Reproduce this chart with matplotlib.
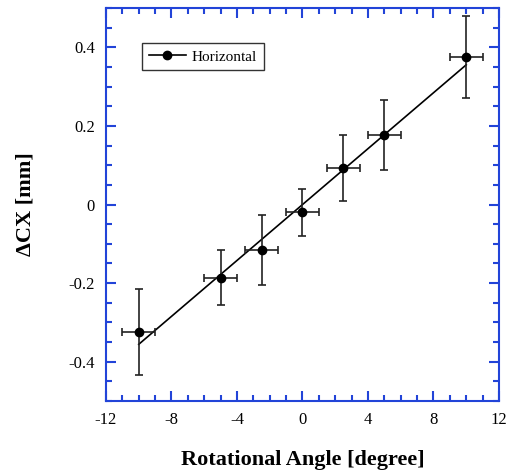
import matplotlib
matplotlib.use('Agg')
import numpy as np
import matplotlib.pyplot as plt
from matplotlib.ticker import MultipleLocator, FuncFormatter

angle = [-10, -5, -2.5, 0, 2.5, 5, 10]
dcx = [-0.325, -0.186, -0.115, -0.02, 0.093, 0.177, 0.375]
dcx_err = [0.11, 0.07, 0.089, 0.06, 0.083, 0.088, 0.105]
angle_err = [1.0, 1.0, 1.0, 1.0, 1.0, 1.0, 1.0]

xlim = (-12, 12)
ylim = (-0.5, 0.5)

plt.rcParams['font.family'] = ['Liberation Serif', 'DejaVu Serif']
blue = '#2244d8'

fig = plt.figure(figsize=(5.11, 4.71), dpi=100)
ax = fig.add_axes([0.2074, 0.1486, 0.7691, 0.8344])

# linear fit through the points
slope, icpt = np.polyfit(angle, dcx, 1)
fit_x = np.array([min(angle), max(angle)])
ax.plot(fit_x, slope * fit_x + icpt, color='black', lw=1.2)

ax.errorbar(angle, dcx, xerr=angle_err, yerr=dcx_err, fmt='none',
            ecolor='#222222', elinewidth=1.2, capsize=3, capthick=1.2)
ax.plot(angle, dcx, 'o', color='black', ms=6)

# legend proxy: line + marker
ax.plot([], [], '-o', color='black', ms=6, lw=1.2, label='Horizontal')
leg = ax.legend(loc='upper left', bbox_to_anchor=(0.0916, 0.911), frameon=True,
                fancybox=False, edgecolor='black', fontsize=11, borderaxespad=0,
                handlelength=2.4, borderpad=0.45, handletextpad=0.4)
leg.get_frame().set_linewidth(1.0)

ax.set_xlim(*xlim)
ax.set_ylim(*ylim)
ax.xaxis.set_major_locator(MultipleLocator(4))
ax.xaxis.set_minor_locator(MultipleLocator(1))
ax.yaxis.set_major_locator(MultipleLocator(0.2))
ax.yaxis.set_minor_locator(MultipleLocator(0.05))

def fmt(v, pos):
    if abs(v) < 1e-9:
        return '0'
    return '%g' % round(v, 3)

ax.xaxis.set_major_formatter(FuncFormatter(fmt))
ax.yaxis.set_major_formatter(FuncFormatter(fmt))

for sp in ax.spines.values():
    sp.set_color(blue)
    sp.set_linewidth(1.5)
ax.tick_params(which='both', direction='in', top=True, right=True,
               color=blue, width=1.5, labelsize=12, labelcolor='black')
ax.tick_params(which='major', length=7, pad=8)
ax.tick_params(which='minor', length=4)

ax.set_xlabel('Rotational Angle [degree]', fontsize=16, fontweight='bold', labelpad=16)
ax.set_ylabel('ΔCX [mm]', fontsize=16, fontweight='bold', labelpad=24)

plt.savefig('out.png', dpi=100)
